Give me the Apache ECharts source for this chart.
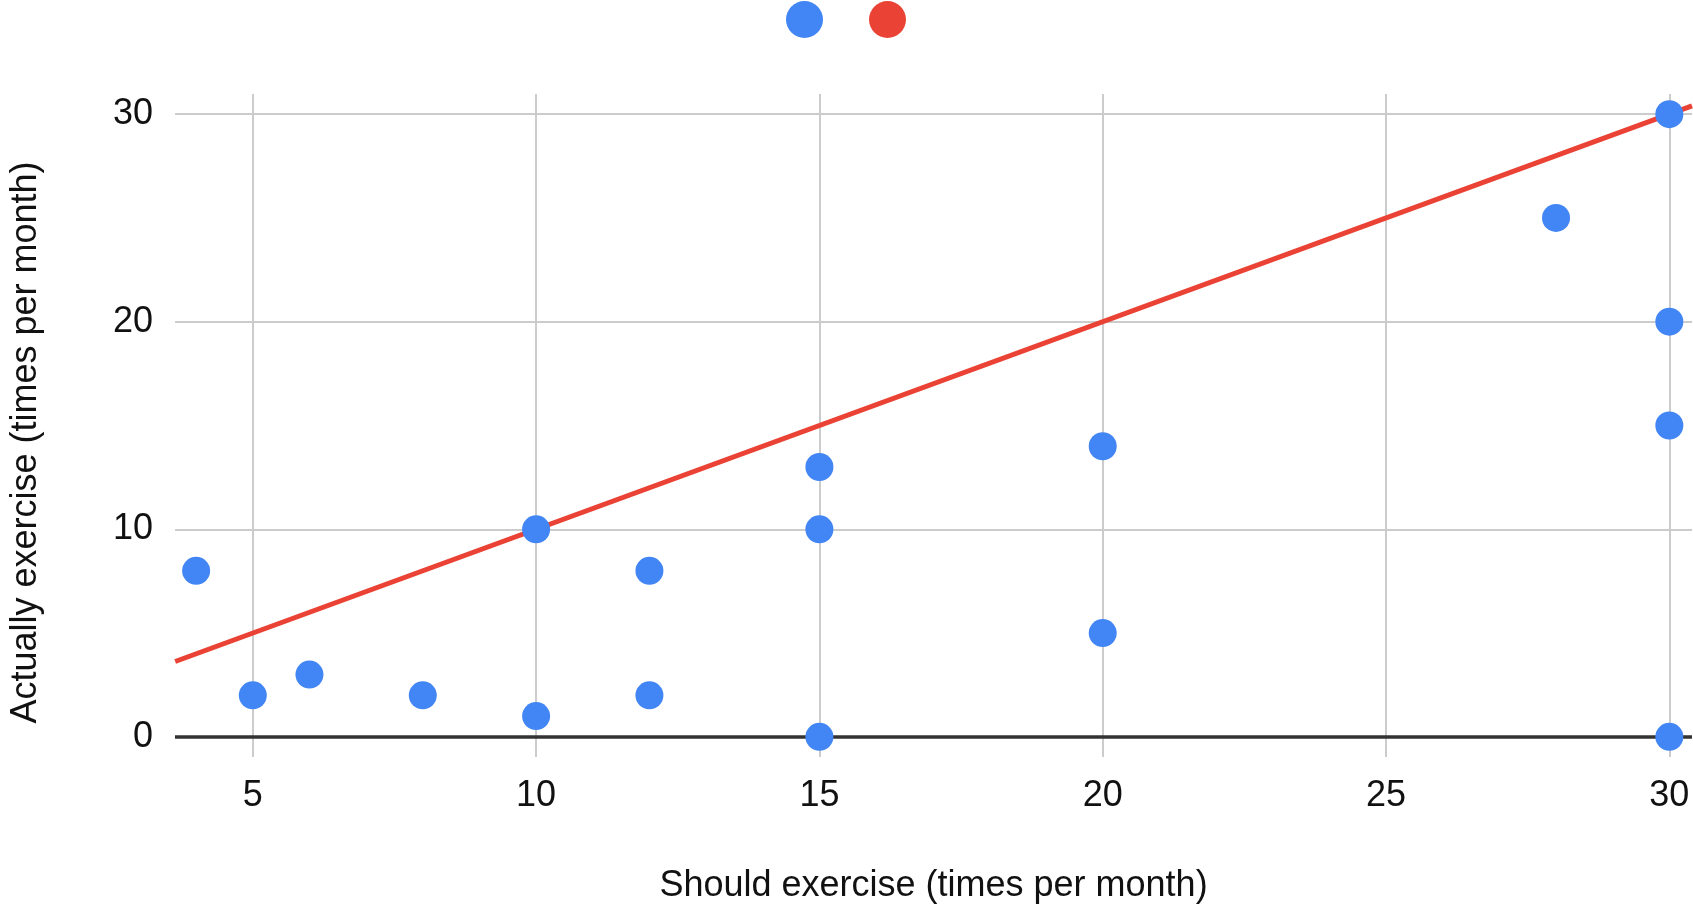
<!DOCTYPE html>
<html>
<head>
<meta charset="utf-8">
<script src="https://cdn.jsdelivr.net/npm/echarts@6/dist/echarts.min.js"></script>
<style>
html,body{margin:0;padding:0;background:#fff;}
#chart{width:1693px;height:909px;}
</style>
</head>
<body>
<div id="chart"></div>
<script>
// Data
const shouldX = [4, 5, 6, 8, 10, 10, 12, 12, 15, 15, 15, 20, 20, 28, 30, 30, 30, 30];
const actualY = [8, 2, 3, 2, 10, 1, 8, 2, 13, 10, 0, 14, 5, 25, 30, 20, 15, 0];
const trendX = [3.63, 30.4];
const trendY = [3.63, 30.4];
const xTicks = [5, 10, 15, 20, 25, 30];
const yTicks = [0, 10, 20, 30];
const xTitle = 'Should exercise (times per month)';
const yTitle = 'Actually exercise (times per month)';

const font = 'Liberation Sans, Arial, Helvetica, sans-serif';
const chart = echarts.init(document.getElementById('chart'));
chart.setOption({
  animation: false,
  backgroundColor: '#fff',
  textStyle: { fontFamily: font },
  legend: {
    top: 1,
    left: 786,
    padding: 0,
    icon: 'circle',
    itemWidth: 37,
    itemHeight: 37,
    itemGap: 46,
    formatter: function () { return ''; },
    data: ['Actual', 'Trendline']
  },
  grid: { left: 171, right: 1, top: 94, bottom: 147, containLabel: false },
  xAxis: {
    type: 'value',
    min: 3.627,
    max: 30.4,
    name: xTitle,
    nameLocation: 'middle',
    nameGap: 111,
    nameTextStyle: { fontSize: 36, color: '#111', fontFamily: font },
    axisLine: { show: false },
    axisTick: { show: false, customValues: xTicks },
    axisLabel: { customValues: xTicks, fontSize: 36, color: '#111', margin: 21, fontFamily: font },
    splitLine: { show: true, lineStyle: { color: '#cccccc', width: 2 } }
  },
  yAxis: {
    type: 'value',
    min: -0.97,
    max: 30.97,
    name: yTitle,
    nameLocation: 'middle',
    nameRotate: 90,
    nameGap: 131,
    nameTextStyle: { fontSize: 36, color: '#111', fontFamily: font, padding: [0, 34, 0, 0] },
    axisLine: { show: false },
    axisTick: { show: false, customValues: yTicks },
    axisLabel: { customValues: yTicks, fontSize: 36, color: '#111', margin: 22, fontFamily: font },
    splitLine: { show: true, lineStyle: { color: ['#333333', '#cccccc', '#cccccc', '#cccccc'], width: 2 } }
  },
  series: [
    {
      name: 'Trendline',
      type: 'line',
      data: trendX.map((x, i) => [x, trendY[i]]),
      showSymbol: false,
      symbol: 'circle',
      lineStyle: { color: '#EA4335', width: 5 },
      itemStyle: { color: '#EA4335' },
      z: 2,
      markLine: {
        silent: true,
        symbol: 'none',
        label: { show: false },
        lineStyle: { color: '#333333', width: 3.5, type: 'solid' },
        data: [{ yAxis: 0 }],
        z: 1
      }
    },
    {
      name: 'Actual',
      type: 'scatter',
      data: shouldX.map((x, i) => [x, actualY[i]]),
      symbol: 'circle',
      symbolSize: 28,
      itemStyle: { color: '#4285F4', opacity: 1 },
      z: 3
    }
  ]
});
</script>
</body>
</html>
